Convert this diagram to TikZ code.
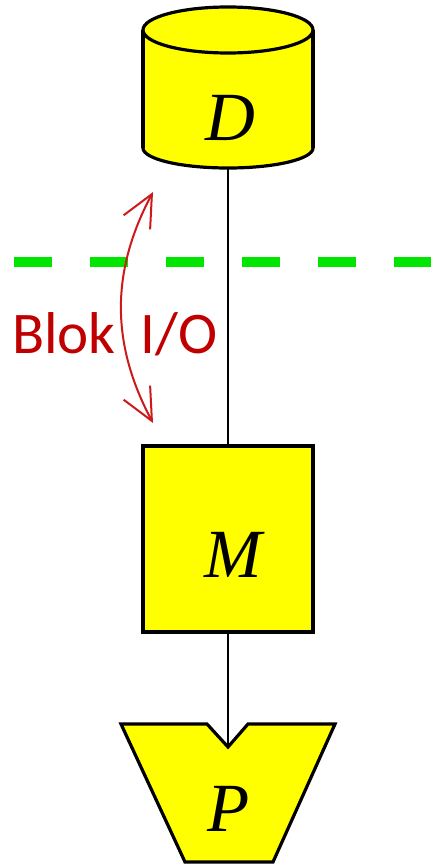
\documentclass[tikz,border=0pt]{standalone}
\usepackage{fontspec}
\setmainfont{Liberation Serif}
\newfontfamily\calfont{Carlito}
\usetikzlibrary{arrows.meta}
\definecolor{ioRed}{RGB}{192,0,0}
\definecolor{arrRed}{RGB}{205,25,25}
\definecolor{sepGreen}{RGB}{0,230,0}
\definecolor{shYellow}{RGB}{255,255,0}
\tikzset{
  shapeline/.style={draw=black, line width=3.2pt, fill=shYellow, line join=miter},
  conn/.style={draw=black, line width=2.2pt},
  bigletter/.style={font=\fontsize{69}{69}\selectfont\itshape, inner sep=0pt, anchor=base},
  sepline/.style={draw=sepGreen, line width=10pt, dash pattern=on 38pt off 38pt},
  ioarrow/.style={draw=arrRed, line width=2pt, {Straight Barb[length=32pt,width=30pt,line width=2pt]}-{Straight Barb[length=32pt,width=30pt,line width=2pt]}},
}
\begin{document}
\begin{tikzpicture}[x=1pt,y=-1pt]
\useasboundingbox (0,0) rectangle (431,864);
% cylinder D
\filldraw[shapeline] (228,148) ellipse[x radius=85pt, y radius=20pt];
\fill[shYellow] (143,30) rectangle (313,148);
\draw[draw=black, line width=3.2pt] (143,30) -- (143,148) (313,30) -- (313,148);
\filldraw[shapeline] (228,30) ellipse[x radius=85pt, y radius=23pt];
\coordinate (Dbot) at (228,168);
\node[bigletter] (D) at (230,140) {D};
% separator
\draw[sepline] (14,262) -- (431,262);
% box M
\node[shapeline, rectangle, inner sep=0pt, outer sep=0pt, minimum width=170pt, minimum height=186pt] (Mbox) at (228,539) {};
\node[bigletter] (M) at (233,577) {M};
% P shape
\filldraw[shapeline] (121,724) -- (207,724) -- (228,747) -- (248,724) -- (335,724) -- (273,862) -- (185,862) -- cycle;
\coordinate (Ptip) at (228,747);
\node[bigletter] (P) at (229,831) {P};
% connectors
\draw[conn] (Dbot) -- (Mbox.north);
\draw[conn] (Mbox.south) -- (Ptip);
% I/O arrow
\coordinate (ioTop) at (153,192);
\coordinate (ioBot) at (153,423);
\draw[ioarrow] (ioTop) to[bend right=28] (ioBot);
\node[font=\calfont\fontsize{59}{59}\selectfont, text=ioRed, inner sep=0pt, anchor=base west] (io) at (12,353) {Blok\hspace{0.42em}I/O};
\end{tikzpicture}
\end{document}
